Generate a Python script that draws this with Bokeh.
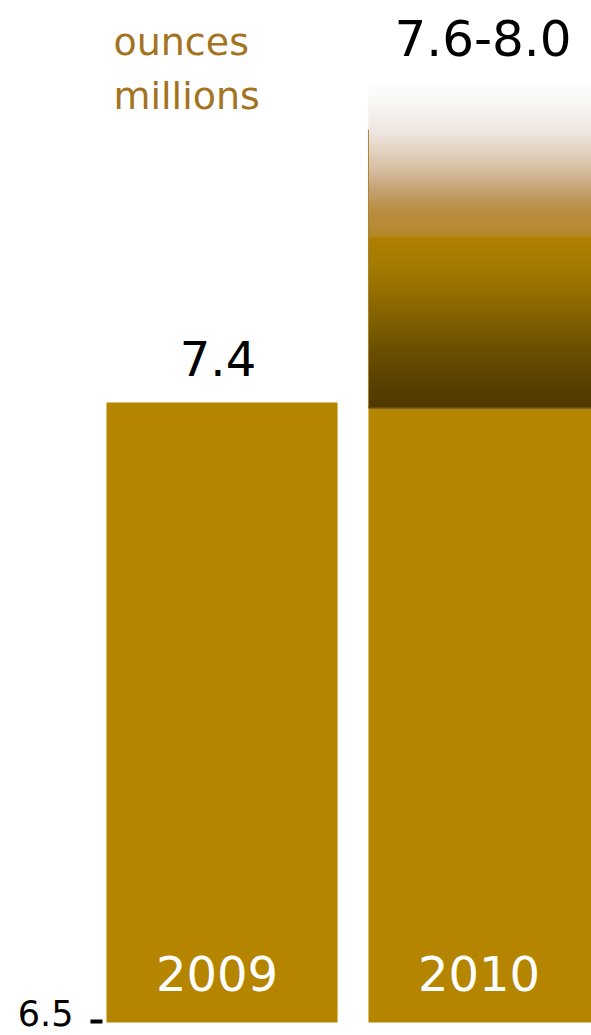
import numpy as np
from bokeh.plotting import figure
from bokeh.models import Range1d, FixedTicker, ColumnDataSource
from bokeh.core.properties import value
from bokeh.embed import file_html
from bokeh.resources import INLINE

# ---------------- data ----------------
years = ["2009", "2010"]
bar_tops = [7.4, 7.391]         # solid bar heights (2010 = base under the forecast band)
bar_labels = ["7.4", ""]
forecast_label = "7.6-8.0"
forecast_low = 7.6
forecast_high = 8.0
baseline = 6.5
y_ticks = [6.5]
y_tick_labels = ["6.5"]
unit_lines = ["ounces", "millions"]

# ---------------- style ----------------
GOLD = "#b58500"
TEXT_GOLD = "#a37322"
FONT = "DejaVu Sans"
BAR_W = 0.882
PX = 1.0 / 688.9      # one screen pixel in y units
PXX = 1.0 / 262.0     # one screen pixel in x units

# gradient stops for the 2010 forecast band: (value, colour)
grad_stops = [
    (bar_tops[1], "#4f3900"),
    (7.4319, "#5a4200"),
    (7.4755, "#6b4f00"),
    (7.5190, "#806000"),
    (7.5626, "#967000"),
    (7.6061, "#a67c00"),
    (7.6395, "#b08000"),
    (7.6410, "#b4892a"),
    (7.6787, "#b98e42"),
    (7.7077, "#c6a070"),
    (7.7367, "#d5bc9e"),
    (7.7658, "#e3d3c3"),
    (7.7948, "#efe7e1"),
    (7.8384, "#faf8f6"),
    (7.8717, "#ffffff"),
]

p = figure(width=591, height=1035, output_backend="svg", toolbar_location=None,
           x_axis_location=None, min_border_left=88, min_border_right=0,
           min_border_top=0, min_border_bottom=0,
           x_range=Range1d(-0.50954, 1.41031), y_range=Range1d(6.48113, 7.98352))
p.outline_line_color = None
p.grid.visible = False
p.background_fill_color = "white"
p.border_fill_color = "white"

xs = list(range(len(years)))

# solid bars
p.vbar(x=xs, top=bar_tops, bottom=baseline, width=BAR_W, fill_color=GOLD, line_color=None)

# gradient band above 2010 bar
sv = np.array([s[0] for s in grad_stops])
sc = np.array([[int(c[1:3], 16), int(c[3:5], 16), int(c[5:7], 16)] for _, c in grad_stops], dtype=float)
step = PX
bottoms = np.arange(sv[0], sv[-1], step)
mids = bottoms + step / 2
cols = []
for m in mids:
    rgb = [np.interp(m, sv, sc[:, k]) for k in range(3)]
    cols.append("#%02x%02x%02x" % tuple(int(round(v)) for v in rgb))
gsrc = ColumnDataSource(dict(left=[1 - BAR_W / 2] * len(bottoms), right=[1 + BAR_W / 2] * len(bottoms),
                             bottom=bottoms, top=bottoms + step * 1.6, color=cols))
p.quad(left="left", right="right", bottom="bottom", top="top", fill_color="color",
       line_color=None, source=gsrc)
# thin left edge line of the band and seam line
p.segment(x0=[1 - BAR_W / 2], x1=[1 - BAR_W / 2], y0=[sv[0]], y1=[7.796],
          line_color="#a98431", line_width=1)
p.segment(x0=[1 - BAR_W / 2], x1=[1 + BAR_W / 2], y0=[sv[0] + 1.2 * step], y1=[sv[0] + 1.2 * step],
          line_color="#6a4e00", line_width=1)

# value label over 2009
p.text(x=[0], y=[bar_tops[0]], text=[bar_labels[0]], text_align="center",
       text_baseline="alphabetic", x_offset=-4, y_offset=-44,
       text_font=value(FONT), text_font_size="48px", text_color="black")
# forecast label over 2010
p.text(x=[1], y=[grad_stops[-1][0]], text=[forecast_label], text_align="center",
       text_baseline="alphabetic", x_offset=-1, y_offset=-40,
       text_font=value(FONT), text_font_size="50px", text_color="black")
# year labels inside bars
p.text(x=xs, y=[baseline] * 2, text=years, text_align="center",
       text_baseline="alphabetic", x_offset=-5, y_offset=-49,
       text_font=value(FONT), text_font_size="48px", text_color="white")
# unit text
p.text(x=[-BAR_W / 2] * 2, y=[grad_stops[-1][0]] * 2, text=unit_lines, text_align="left",
       text_baseline="alphabetic", x_offset=7, y_offset=[-36, 18],
       text_font=value(FONT), text_font_size="38px", text_color=TEXT_GOLD)

# tick mark (drawn just left of the 2009 bar)
bar_left = -BAR_W / 2
tick_y = [t + 1 * PX for t in y_ticks]
p.segment(x0=[bar_left - 16 * PXX] * len(y_ticks), x1=[bar_left - 4 * PXX] * len(y_ticks),
          y0=tick_y, y1=tick_y, line_color="black", line_width=4)

# y axis providing the tick label (label sits slightly above the tick mark)
label_pos = [t + 10 * PX for t in y_ticks]
ax = p.yaxis[0]
ax.ticker = FixedTicker(ticks=label_pos)
ax.major_label_overrides = {lp: lab for lp, lab in zip(label_pos, y_tick_labels)}
ax.axis_line_color = None
ax.major_tick_in = 0
ax.major_tick_out = 0
ax.major_tick_line_color = None
ax.minor_tick_line_color = None
ax.major_label_text_font = FONT
ax.major_label_text_font_size = "35px"
ax.major_label_text_color = "black"
ax.major_label_standoff = 15

open("out.html", "w").write(file_html(p, INLINE))
